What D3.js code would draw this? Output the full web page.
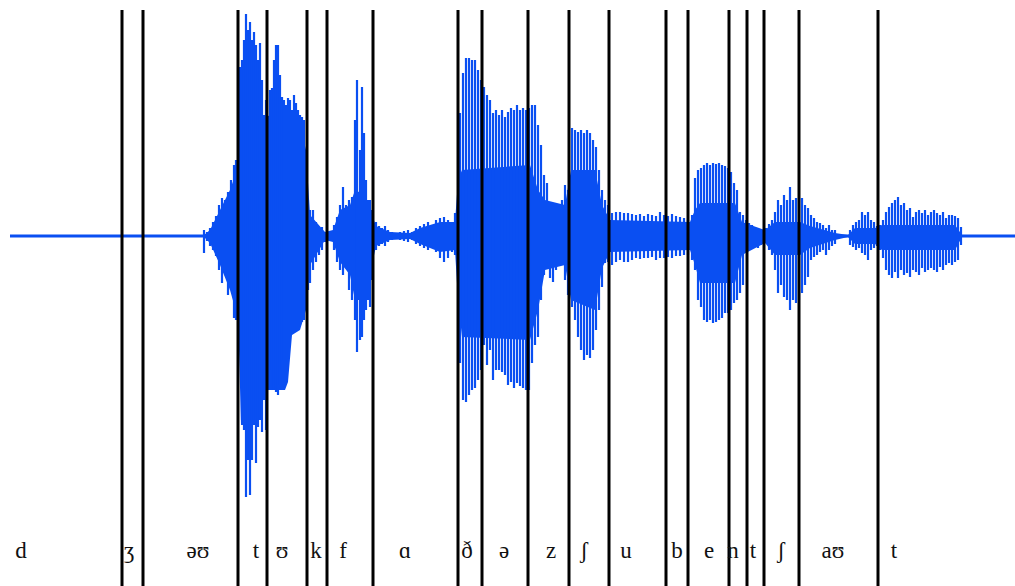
<!DOCTYPE html>
<html>
<head>
<meta charset="utf-8">
<script src="https://cdn.jsdelivr.net/npm/d3@7"></script>
<style>
  html, body { margin: 0; padding: 0; background: #fff; }
  svg { display: block; }
  .seg text { font-family: "Liberation Serif", "DejaVu Serif", serif; font-size: 23px; fill: #111; }
</style>
</head>
<body>
<div id="chart"></div>
<script>
// utterance length in ms, amplitude in 16-bit PCM counts
var duration = 2010;

// phoneme boundaries (ms)
var boundaries = [224, 266, 456, 514, 594, 634, 726, 896, 944, 1036, 1118, 1198,
                  1312, 1356, 1438, 1474, 1508, 1578, 1736];

// phoneme labels and their centre times (ms)
var phonemes = ["d", "ʒ", "əʊ", "t", "ʊ", "k", "f", "ɑ", "ð", "ə", "z", "ʃ", "u",
                "b", "e", "n", "t", "ʃ", "aʊ", "t"];
var phonemeTimes = [22, 238, 376, 492, 544, 612, 666, 790, 914, 988, 1082, 1148, 1232,
                    1334, 1398, 1446, 1486, 1542, 1646, 1768];

// peak samples: [time ms, max, min]
var peaks = [
  [388,600,-1700],[394,400,-500],[400,800,-1000],[406,1400,-1400],[412,2000,-2000],
  [418,3100,-3400],[424,3800,-4700],[430,3600,-3400],[436,4400,-5900],[442,5600,-5400],
  [448,7100,-8200],[452,7600,-8400],[460,16900,-11400],[464,17600,-18400],[468,19600,-19400],
  [472,22200,-26100],[476,20600,-22400],[480,21400,-25900],[484,19600,-22400],[488,20400,-18400],
  [492,19100,-22700],[496,17600,-19100],[500,19300,-18400],[504,15600,-19600],[508,12100,-16400],
  [512,13600,-19400],[516,11800,-11400],[520,14600,-10900],[524,14800,-13400],[528,17600,-15400],
  [532,19100,-15600],[536,19100,-15900],[540,16100,-14900],[544,13900,-13400],[548,13600,-12400],
  [552,13100,-11900],[556,13800,-10900],[560,13600,-9900],[564,12600,-9400],[568,14100,-9400],
  [572,13300,-9200],[576,12600,-9100],[580,12100,-8900],[584,11900,-8600],[588,11600,-8400],
  [592,8600,-6400],[596,3600,-5400],[600,2600,-4700],[606,2600,-3400],[612,1400,-2600],
  [618,900,-1900],[624,900,-1400],[630,400,-600],[636,200,-200],
  [648,1100,-1400],[654,1900,-2600],[660,3100,-3400],[666,4900,-3900],[672,3100,-3200],
  [678,3600,-5400],[684,3900,-6400],[690,11600,-8400],[694,15600,-11600],[700,8600,-10400],
  [704,14900,-10100],[708,10300,-8400],[712,5600,-7400],[716,3600,-6400],[720,3600,-7100],
  [724,2600,-4400],[732,1400,-1400],[738,1000,-1000],[744,800,-800],[750,1000,-1000],
  [756,600,-600],[764,400,-400],[772,300,-300],[780,400,-400],[788,500,-500],
  [796,600,-600],[804,400,-400],[812,800,-800],[820,1000,-1000],[828,1200,-1200],
  [836,1400,-1400],[844,1100,-1200],[852,1600,-1600],[860,1800,-2200],[868,1900,-2600],
  [876,1600,-2200],[884,1400,-1600],[890,2300,-1900],
  [900,12300,-12700],[906,16300,-16400],[912,17800,-16600],[918,17800,-15900],[924,17600,-15400],
  [930,17600,-15200],[936,16600,-14400],[942,15600,-13400],[948,14900,-10900],[954,14100,-12900],
  [960,13600,-11400],[966,12300,-14400],[972,12600,-13400],[978,12100,-13400],[984,12600,-13600],
  [990,11900,-13900],[996,12400,-14900],[1002,12800,-14600],[1008,12600,-15200],[1014,13100,-14700],
  [1020,12600,-15000],[1026,12800,-15200],[1032,12600,-15400],[1038,12800,-15400],[1044,13100,-12700],
  [1050,13100,-10900],[1056,11100,-10100],[1062,9100,-6400],[1068,6100,-3900],[1074,5300,-3200],
  [1080,3400,-4200],[1086,3100,-4600],[1092,2900,-3400],[1098,3100,-2700],[1104,3600,-2900],
  [1110,5100,-4400],[1116,4600,-5900],
  [1124,10800,-7100],[1130,10600,-8400],[1136,10400,-10100],[1142,10600,-11400],[1148,10300,-12400],
  [1154,10600,-11900],[1160,10300,-12200],[1166,9600,-11400],[1172,8900,-9400],[1178,6600,-7400],
  [1184,4600,-5100],[1190,3600,-2700],[1196,3100,-2600],
  [1204,2300,-2900],[1212,2400,-2600],[1220,2400,-2400],[1228,2300,-2600],[1236,2300,-2600],
  [1244,2200,-2400],[1252,2100,-2200],[1260,2200,-2300],[1268,2000,-2200],[1276,2200,-2200],
  [1284,2100,-2100],[1292,2000,-2400],[1300,2400,-2200],[1308,2100,-2200],[1316,2000,-2100],
  [1324,2200,-2200],[1332,2000,-2000],[1340,1900,-2000],[1348,1800,-1900],[1356,1600,-1900],
  [1364,2100,-2400],[1370,5800,-3400],[1376,6600,-6400],[1382,6800,-7100],[1388,7100,-8400],
  [1394,7300,-8600],[1400,7100,-8400],[1406,7300,-8700],[1412,7200,-8600],[1418,7300,-8400],
  [1424,7100,-8200],[1430,7000,-7700],[1436,6800,-7700],[1442,6400,-7400],[1448,5300,-6700],
  [1454,4600,-6400],[1460,2400,-5700],[1466,2100,-4900],[1472,1600,-1400],[1478,1300,-1200],
  [1484,1100,-1100],[1490,900,-1000],[1496,800,-1200],[1502,600,-900],
  [1512,800,-600],[1518,1200,-1400],[1524,1600,-1900],[1530,2400,-3400],[1536,3600,-5700],
  [1542,3100,-4900],[1548,4100,-6100],[1554,3600,-6400],[1560,4900,-7400],[1566,3600,-6400],
  [1572,3800,-6700],[1578,3800,-6400],[1584,3800,-5700],[1590,3100,-4900],[1596,2800,-4100],
  [1602,2100,-2400],[1608,1800,-2100],[1614,1400,-1900],[1620,1300,-1600],[1626,1100,-1400],
  [1632,800,-1900],[1638,1100,-1400],[1644,600,-1000],[1650,600,-800],[1656,200,-200],
  [1664,100,-100],[1672,100,-100],[1680,600,-900],[1686,1100,-1100],[1692,1400,-1400],
  [1698,1600,-1200],[1704,2400,-1700],[1710,2100,-1900],[1716,2400,-2400],[1722,1600,-1400],
  [1728,1400,-1200],[1734,1000,-1000],
  [1740,1100,-1400],[1746,1600,-2200],[1752,2400,-3400],[1758,2900,-3900],[1764,3300,-4200],
  [1770,3600,-3600],[1776,3900,-4200],[1782,3100,-3400],[1788,3300,-3900],[1794,2600,-3700],
  [1800,2800,-4100],[1806,1900,-3400],[1812,2400,-3600],[1818,2600,-3900],[1824,2300,-3200],
  [1830,2600,-3600],[1836,2100,-3400],[1842,2400,-3200],[1848,2600,-3400],[1854,2300,-3600],
  [1860,2100,-3100],[1866,2400,-3400],[1872,1800,-2900],[1878,2100,-2700],[1884,2100,-2900],
  [1890,2000,-2600],[1896,1800,-2400],[1902,900,-900]
];

// dense body of the signal: [time ms, max, min]
var body = [
  [386,0,0],[400,600,-700],[420,2600,-2900],[440,4600,-5400],[454,6600,-7900],
  [458,11300,-11400],[462,11300,-18900],[496,11300,-18900],[504,12100,-15400],[550,11800,-15400],
  [556,11800,-14600],[564,11400,-9900],[580,11100,-9400],
  [592,8600,-7400],[600,2100,-2900],[630,400,-400],[646,600,-600],[660,2600,-2600],
  [680,3100,-3900],[690,4600,-6400],[710,4100,-6400],[724,2100,-2900],[732,1000,-1000],
  [760,400,-400],[800,300,-300],[820,800,-800],[860,1400,-1600],[890,1400,-1400],
  [896,5600,-6400],[904,6600,-10100],[1040,7100,-10400],[1056,4600,-7400],[1070,3600,-3400],
  [1110,3100,-2900],[1122,6600,-6400],[1170,6600,-7400],[1184,3100,-3200],[1200,1600,-1600],
  [1360,1400,-1400],[1370,2600,-2900],[1380,3300,-4700],[1450,3300,-4700],[1464,1400,-1900],
  [1510,600,-700],[1530,1400,-1900],[1580,1400,-1900],[1600,1000,-1200],[1650,300,-400],
  [1676,100,-100],[1690,800,-800],[1730,800,-800],[1744,1100,-1400],[1890,1100,-1400],
  [1904,100,-100]
];

var width = 1015, height = 586;
var blue = "#0a4ff2";

var svg = d3.select("#chart").append("svg")
  .attr("width", width)
  .attr("height", height);

var x = d3.scaleLinear().domain([0, duration]).range([10, 1015]);
var y = d3.scaleLinear().domain([-32768, 32768]).range([236 + 327.68, 236 - 327.68]);

// baseline
svg.append("line")
  .attr("x1", x(0)).attr("x2", x(duration))
  .attr("y1", y(0)).attr("y2", y(0))
  .attr("stroke", blue)
  .attr("stroke-width", 3);

// solid body
var area = d3.area()
  .x(function(d) { return x(d[0]); })
  .y0(function(d) { return y(d[2]); })
  .y1(function(d) { return y(d[1]); });

svg.append("path")
  .datum(body)
  .attr("d", area)
  .attr("fill", blue);

// peaks
svg.append("g").selectAll("line").data(peaks).enter()
  .append("line")
  .attr("x1", function(d) { return x(d[0]); })
  .attr("x2", function(d) { return x(d[0]); })
  .attr("y1", function(d) { return y(d[1]); })
  .attr("y2", function(d) { return y(d[2]); })
  .attr("stroke", blue)
  .attr("stroke-width", 2.2);

// boundaries
svg.append("g").selectAll("line").data(boundaries).enter()
  .append("line")
  .attr("x1", function(d) { return x(d); })
  .attr("x2", function(d) { return x(d); })
  .attr("y1", 10)
  .attr("y2", height)
  .attr("stroke", "#000")
  .attr("stroke-width", 3);

// labels
svg.append("g").attr("class", "seg").selectAll("text").data(phonemes).enter()
  .append("text")
  .attr("x", function(d, i) { return x(phonemeTimes[i]); })
  .attr("y", 558)
  .attr("text-anchor", "middle")
  .text(function(d) { return d; });
</script>
</body>
</html>
